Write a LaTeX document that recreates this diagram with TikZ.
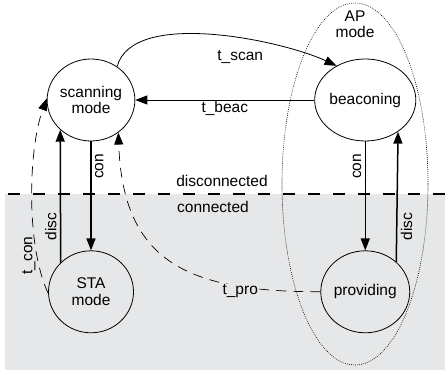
\documentclass[tikz,border=0pt]{standalone}
\usepackage{fontspec}
\setmainfont{Liberation Sans}
\usepackage{tikz}
\usetikzlibrary{positioning}
\usetikzlibrary {arrows.meta}
\usetikzlibrary {shapes.geometric}
\definecolor{connectedgray}{RGB}{230,231,232}
\tikzset{
  statenode/.style= {
    ellipse,
    draw,
    line width = 0.8pt,
    minimum width = 85pt,
    minimum height = 82pt,
    inner sep = 0pt,
    align = center
  },
  trans/.style= {
    -{Triangle[length=12pt,width=9pt]},
    line width = 1.5pt
  },
  thintrans/.style= {
    -{Triangle[length=12pt,width=9pt]},
    line width = 0.8pt
  },
  timeout/.style= {
    -{Triangle[length=12pt,width=9pt]},
    line width = 0.7pt,
    dash pattern = on 10pt off 7pt
  }
}

\begin{document}
\begin{tikzpicture}[x=1pt,y=1pt,font=\fontsize{15.5}{16.5}\selectfont]
  \useasboundingbox (0,0) rectangle (445,375);
  \fill[connectedgray] (5,5) rectangle (445,181);
  \draw[line width=1.5pt,dash pattern=on 12pt off 13pt] (8,181) -- (445,181);
  \draw[line width=0.6pt,dash pattern=on 0.8pt off 1.2pt] (355,191) ellipse [x radius=73, y radius=181];

  \node[statenode] (scan) at (91,275) {scanning\\mode};
  \node[statenode,right=179pt of scan] (beac) {beaconing};
  \node[statenode,below=109pt of scan] (sta) {STA\\mode};
  \node[statenode,below=109pt of beac] (prov) {providing};

  \node[align=center] (apmode) at (355,351) {AP\\mode};
  \node (disconn) at (222,194) {disconnected};
  \node (conn) at (213,168) {connected};

  \draw[thintrans] (scan.52) to[out=75,in=155,looseness=0.7]
    node[pos=0.6,below=8pt] {t\_scan} (beac.130);
  \draw[thintrans] (beac.west) -- node[below,inner sep=1pt] {t\_beac} (scan.east);

  \draw[trans] (scan.south) -- node[pos=0.23,rotate=90,anchor=north] {con} (sta.north);
  \draw[trans] (sta.136) -- node[pos=0.27,rotate=90,anchor=south] {disc} (scan.224);
  \draw[trans] (beac.south) -- node[pos=0.23,rotate=90,anchor=south] {con} (prov.north);
  \draw[trans] (prov.44) -- node[pos=0.27,rotate=90,anchor=north] {disc} (beac.316);

  \draw[timeout] (sta.182) to[out=115,in=250,looseness=0.7]
    node[pos=0.22,rotate=90,anchor=south,inner sep=1pt] {t\_con} (scan.178);
  \draw[timeout] (prov.west) to[out=180,in=272,looseness=1.3]
    node[pos=0.23,yshift=-5pt,fill=connectedgray,inner sep=1pt] {t\_pro} (scan.310);
\end{tikzpicture}
\end{document}
